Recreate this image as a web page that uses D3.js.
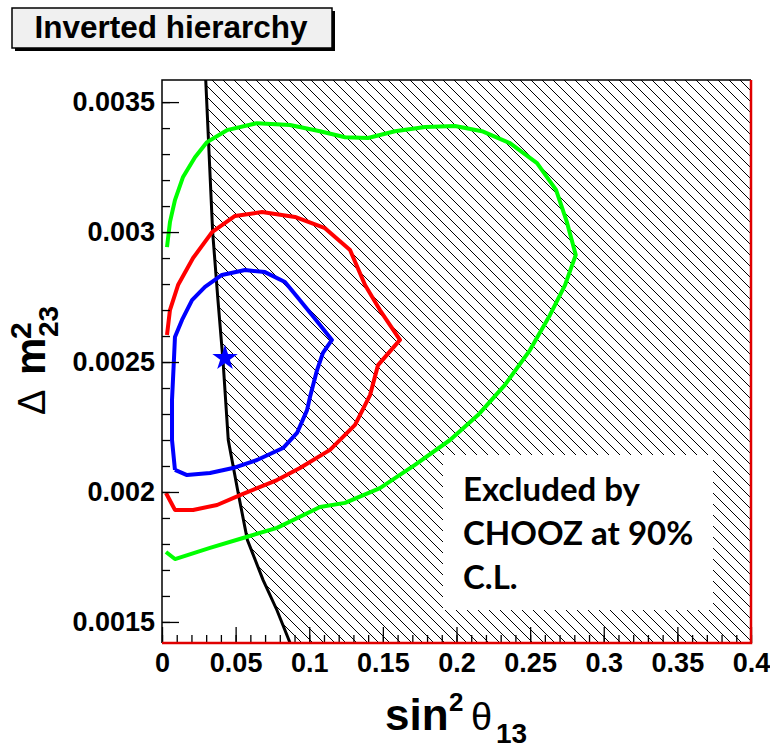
<!DOCTYPE html>
<html>
<head>
<meta charset="utf-8">
<script src="https://cdn.jsdelivr.net/npm/d3@7"></script>
<style>
  body { margin: 0; background: #fff; }
  svg { display: block; }
</style>
</head>
<body>
<div id="chart"></div>
<script>
// axis ticks
var xTicks = [0, 0.05, 0.1, 0.15, 0.2, 0.25, 0.3, 0.35, 0.4];
var xTickLabels = ["0", "0.05", "0.1", "0.15", "0.2", "0.25", "0.3", "0.35", "0.4"];
var yTicks = [0.0015, 0.002, 0.0025, 0.003, 0.0035];
var yTickLabels = ["0.0015", "0.002", "0.0025", "0.003", "0.0035"];

// green contour (outer)
var greenX = [0.0034, 0.0054, 0.0088, 0.0143, 0.0224, 0.0306, 0.0441, 0.0645, 0.0869, 0.1073, 0.1243, 0.1399,
              0.1582, 0.1786, 0.1990, 0.2173, 0.2363, 0.2547, 0.2676, 0.2750, 0.2810, 0.2737, 0.2635, 0.2499,
              0.2329, 0.2146, 0.1956, 0.1718, 0.1480, 0.1243, 0.1073, 0.0781, 0.0550, 0.0326, 0.0088, 0.0027];
var greenY = [0.002942, 0.003038, 0.003123, 0.003212, 0.003288, 0.003346, 0.003392, 0.003419, 0.003412, 0.003388, 0.003365, 0.003362,
              0.003388, 0.003404, 0.003408, 0.003388, 0.003342, 0.003265, 0.003162, 0.003038, 0.002912, 0.002796, 0.002681, 0.002546,
              0.002412, 0.002296, 0.002200, 0.002104, 0.002015, 0.001958, 0.001942, 0.001862, 0.001823, 0.001785, 0.001742, 0.001769];

// red contour (middle)
var redX = [0.0034, 0.0054, 0.0109, 0.0211, 0.0340, 0.0496, 0.0679, 0.0903, 0.1107, 0.1277, 0.1379, 0.1480,
            0.1616, 0.1467, 0.1413, 0.1311, 0.1141, 0.0937, 0.0781, 0.0530, 0.0374, 0.0211, 0.0088, 0.0027];
var redY = [0.002604, 0.002700, 0.002796, 0.002900, 0.003000, 0.003062, 0.003077, 0.003058, 0.003015, 0.002931, 0.002796, 0.002700,
            0.002585, 0.002488, 0.002373, 0.002258, 0.002162, 0.002092, 0.002046, 0.001988, 0.001950, 0.001931, 0.001931, 0.001996];

// blue contour (inner, closed)
var blueX = [0.0088, 0.0068, 0.0068, 0.0081, 0.0088, 0.0136, 0.0204, 0.0292, 0.0407, 0.0564, 0.0699, 0.0835, 0.0937,
             0.1046, 0.1154, 0.1093, 0.1053, 0.1005, 0.0985, 0.0917, 0.0822, 0.0645, 0.0482, 0.0326, 0.0170, 0.0088];
var blueY = [0.002085, 0.002200, 0.002354, 0.002508, 0.002596, 0.002662, 0.002738, 0.002789, 0.002835, 0.002854, 0.002846, 0.002808, 0.002738,
             0.002662, 0.002585, 0.002535, 0.002469, 0.002365, 0.002315, 0.002227, 0.002169, 0.002123, 0.002092, 0.002073, 0.002065, 0.002085];

// CHOOZ 90% CL exclusion boundary
var choozX = [0.0297, 0.0344, 0.0380, 0.0415, 0.0450, 0.0516, 0.0580, 0.0686, 0.0780, 0.0870];
var choozY = [0.003585, 0.003000, 0.002738, 0.002500, 0.002200, 0.002000, 0.001815, 0.001662, 0.001546, 0.001419];

// best fit point
var bestX = [0.0428];
var bestY = [0.002515];

var width = 770, height = 750;
var pLeft = 162, pRight = 751, pTop = 80, pBottom = 643;

var svg = d3.select("#chart").append("svg").attr("width", width).attr("height", height);

var x = d3.scaleLinear().domain([0, 0.4]).range([pLeft, pRight]);
var y = d3.scaleLinear().domain([0.001419, 0.003585]).range([pBottom, pTop]);

var defs = svg.append("defs");
var s = 11;
defs.append("pattern").attr("id", "hatch").attr("patternUnits", "userSpaceOnUse")
  .attr("width", s).attr("height", s)
  .append("path")
  .attr("d", "M-1,-1L" + (s + 1) + "," + (s + 1) + "M-1," + (s - 1) + "L1," + (s + 1) + "M" + (s - 1) + ",-1L" + (s + 1) + ",1")
  .attr("stroke", "#000").attr("stroke-width", 1);
defs.append("clipPath").attr("id", "plotclip").append("rect")
  .attr("x", pLeft).attr("y", pTop).attr("width", pRight - pLeft).attr("height", pBottom - pTop);

// title box
svg.append("rect").attr("x", 15).attr("y", 11).attr("width", 320).attr("height", 40).attr("fill", "#000");
svg.append("rect").attr("x", 12).attr("y", 8).attr("width", 320).attr("height", 40)
  .attr("fill", "#f0f0f0").attr("stroke", "#000").attr("stroke-width", 1.5);
svg.append("text").attr("x", 171).attr("y", 38).attr("text-anchor", "middle")
  .style("font-family", "'Liberation Sans', Arial, sans-serif").style("font-weight", "bold").style("font-size", "31.5px")
  .text("Inverted hierarchy");

var plot = svg.append("g").attr("clip-path", "url(#plotclip)");

// excluded region
var excl = choozX.map(function(d, i) { return [x(d), y(choozY[i])]; });
excl.push([x(0.4) + 2, y(0.001419)]);
excl.push([x(0.4) + 2, y(0.003585)]);
plot.append("path").attr("d", "M" + excl.join("L") + "Z").attr("fill", "url(#hatch)");

var line = d3.line().x(function(d) { return x(d[0]); }).y(function(d) { return y(d[1]); });
function pts(xs, ys) { return xs.map(function(d, i) { return [d, ys[i]]; }); }

plot.append("path").attr("d", line(pts(choozX, choozY))).attr("fill", "none")
  .attr("stroke", "#000").attr("stroke-width", 3);

plot.append("path").attr("d", line(pts(greenX, greenY))).attr("fill", "none")
  .attr("stroke", "#00ff00").attr("stroke-width", 4).attr("stroke-linejoin", "round");
plot.append("path").attr("d", line(pts(redX, redY))).attr("fill", "none")
  .attr("stroke", "#ff0000").attr("stroke-width", 4).attr("stroke-linejoin", "round");
plot.append("path").attr("d", line(pts(blueX, blueY))).attr("fill", "none")
  .attr("stroke", "#0000ff").attr("stroke-width", 4).attr("stroke-linejoin", "round");

plot.selectAll(".best").data(pts(bestX, bestY)).enter().append("path")
  .attr("transform", function(d) { return "translate(" + x(d[0]) + "," + y(d[1]) + ")"; })
  .attr("d", d3.symbol().type(d3.symbolStar).size(200))
  .attr("fill", "#0000ff");

// CHOOZ label box
svg.append("rect").attr("x", 443).attr("y", 455).attr("width", 270).attr("height", 155).attr("fill", "#fff");
var boxLines = ["Excluded by", "CHOOZ at 90%", "C.L."];
svg.selectAll(".boxtxt").data(boxLines).enter().append("text")
  .attr("x", 463).attr("y", function(d, i) { return 501 + i * 44; })
  .style("font-family", "Lato, 'Open Sans', sans-serif").style("font-weight", "bold").style("font-size", "33px")
  .text(function(d) { return d; });

// axes (ticks inside the frame)
var fontAxis = "'Liberation Sans', Arial, sans-serif";
var xMinor = d3.range(0, 0.4001, 0.01);
var yMinor = d3.range(0.0015, 0.00355, 0.0001);

var gxMinor = svg.append("g").attr("transform", "translate(0," + pBottom + ")")
  .call(d3.axisBottom(x).tickValues(xMinor).tickSize(-8).tickFormat(""));
var gx = svg.append("g").attr("transform", "translate(0," + pBottom + ")")
  .call(d3.axisBottom(x).tickValues(xTicks).tickSize(-16).tickPadding(10)
    .tickFormat(function(d, i) { return xTickLabels[i]; }));
var gyMinor = svg.append("g").attr("transform", "translate(" + pLeft + ",0)")
  .call(d3.axisLeft(y).tickValues(yMinor).tickSize(-8).tickFormat(""));
var gy = svg.append("g").attr("transform", "translate(" + pLeft + ",0)")
  .call(d3.axisLeft(y).tickValues(yTicks).tickSize(-17).tickPadding(7)
    .tickFormat(function(d, i) { return yTickLabels[i]; }));

[gxMinor, gx, gyMinor, gy].forEach(function(g) {
  g.selectAll(".domain").remove();
  g.selectAll("line").attr("stroke", "#000").attr("stroke-width", 1.3);
  g.selectAll("text").style("font-family", fontAxis).style("font-weight", "bold").style("font-size", "27px").attr("fill", "#000");
});

// frame
svg.append("path").attr("d", "M" + pLeft + "," + pBottom + "V" + pTop + "H" + pRight)
  .attr("fill", "none").attr("stroke", "#000").attr("stroke-width", 1.5);
svg.append("path").attr("d", "M" + pLeft + "," + pBottom + "H" + pRight + "V" + pTop)
  .attr("fill", "none").attr("stroke", "#e00000").attr("stroke-width", 2.5);

// x title: sin^2 theta_13
var xt = svg.append("text").attr("y", 730).style("font-family", fontAxis).style("fill", "#000");
xt.append("tspan").attr("x", 385).style("font-weight", "bold").style("font-size", "44px").text("sin");
xt.append("tspan").attr("x", 449).attr("y", 711).style("font-weight", "bold").style("font-size", "26px").text("2");
xt.append("tspan").attr("x", 471).attr("y", 730).style("font-size", "38px").text("θ");
xt.append("tspan").attr("x", 496).attr("y", 743).style("font-weight", "bold").style("font-size", "28px").text("13");

// y title: Delta m^2_23
var yt = svg.append("g").attr("transform", "translate(45,415) rotate(-90)")
  .style("font-family", fontAxis);
yt.append("text").attr("x", 0).attr("y", 0).style("font-size", "38px").text("Δ");
yt.append("text").attr("x", 40).attr("y", 0).style("font-weight", "bold").style("font-size", "42px").text("m");
yt.append("text").attr("x", 76).attr("y", -14).style("font-weight", "bold").style("font-size", "30px").text("2");
yt.append("text").attr("x", 78).attr("y", 13).style("font-weight", "bold").style("font-size", "28px").text("23");
</script>
</body>
</html>
